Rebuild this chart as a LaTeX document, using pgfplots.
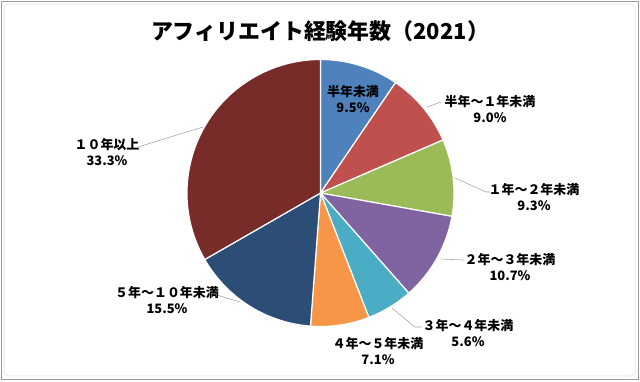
\documentclass[border=0pt]{standalone}
\usepackage{pgfplots}
\pgfplotsset{compat=1.18}
\usepackage{fontspec}
\setmainfont{Noto Sans CJK JP}
\definecolor{c1}{HTML}{4F81BD}
\definecolor{c2}{HTML}{C0504D}
\definecolor{c3}{HTML}{9BBB59}
\definecolor{c4}{HTML}{8064A2}
\definecolor{c5}{HTML}{4BACC6}
\definecolor{c6}{HTML}{F79646}
\definecolor{c7}{HTML}{2C4D75}
\definecolor{c8}{HTML}{772C2A}
\definecolor{lead}{HTML}{A6A6A6}
\begin{document}
\begin{tikzpicture}
\begin{axis}[
  scale only axis, width=640bp, height=381bp,
  xmin=0, xmax=640, ymin=0, ymax=381, y dir=reverse,
  hide axis, clip=false,
]
\fill[white] (axis cs:0,0) rectangle (axis cs:640,381);
\draw[gray!80, line width=1pt] (axis cs:1,1) rectangle (axis cs:638.5,379.5);
\draw[gray!25, line width=0.6pt, rounded corners=4pt] (axis cs:4,4) rectangle (axis cs:635,376);
\xdef\cum{0}
\foreach \v/\c in {9.5/c1, 9.0/c2, 9.3/c3, 10.7/c4, 5.6/c5, 7.1/c6, 15.5/c7, 33.3/c8}{%
  \pgfmathsetmacro\a{90-3.6*\cum}%
  \pgfmathsetmacro\b{90-3.6*(\cum+\v)}%
  \edef\temp{\noexpand\fill[\c, draw=white, line width=1.2pt, line join=round] (axis cs:320.5,193) -- ++(\a:133.5bp) arc[start angle=\a, end angle=\b, radius=133.5bp] -- cycle;}%
  \temp
  \pgfmathsetmacro\newcum{\cum+\v}%
  \xdef\cum{\newcum}%
}
% leader lines
\draw[lead, line width=0.6pt] (axis cs:427,107) -- (axis cs:441,102);
\draw[lead, line width=0.6pt] (axis cs:455,178) -- (axis cs:486,192) -- (axis cs:490,192);
\draw[lead, line width=0.6pt] (axis cs:441,259) -- (axis cs:464,260);
\draw[lead, line width=0.6pt] (axis cs:392,308) -- (axis cs:415,327) -- (axis cs:422,327);
\draw[lead, line width=0.6pt] (axis cs:217,295) -- (axis cs:240,302);
\draw[lead, line width=0.6pt] (axis cs:138,147) -- (axis cs:203,127);
% title
\node[font=\bfseries\fontsize{22}{26}\selectfont] at (axis cs:320,31) {アフィリエイト経験年数（2021）};
% labels
\tikzset{lab/.style={font=\bfseries\fontsize{13}{17}\selectfont, align=center, inner sep=0pt}}
\node[lab] at (axis cs:353,99) {半年未満\\9.5\%};
\node[lab] at (axis cs:490,109) {半年～１年未満\\9.0\%};
\node[lab] at (axis cs:534,197) {１年～２年未満\\9.3\%};
\node[lab] at (axis cs:510,267) {２年～３年未満\\10.7\%};
\node[lab] at (axis cs:468,333) {３年～４年未満\\5.6\%};
\node[lab] at (axis cs:378,351) {４年～５年未満\\7.1\%};
\node[lab] at (axis cs:167,300) {５年～１０年未満\\15.5\%};
\node[lab] at (axis cs:107,152) {１０年以上\\33.3\%};
\end{axis}
\end{tikzpicture}
\end{document}
